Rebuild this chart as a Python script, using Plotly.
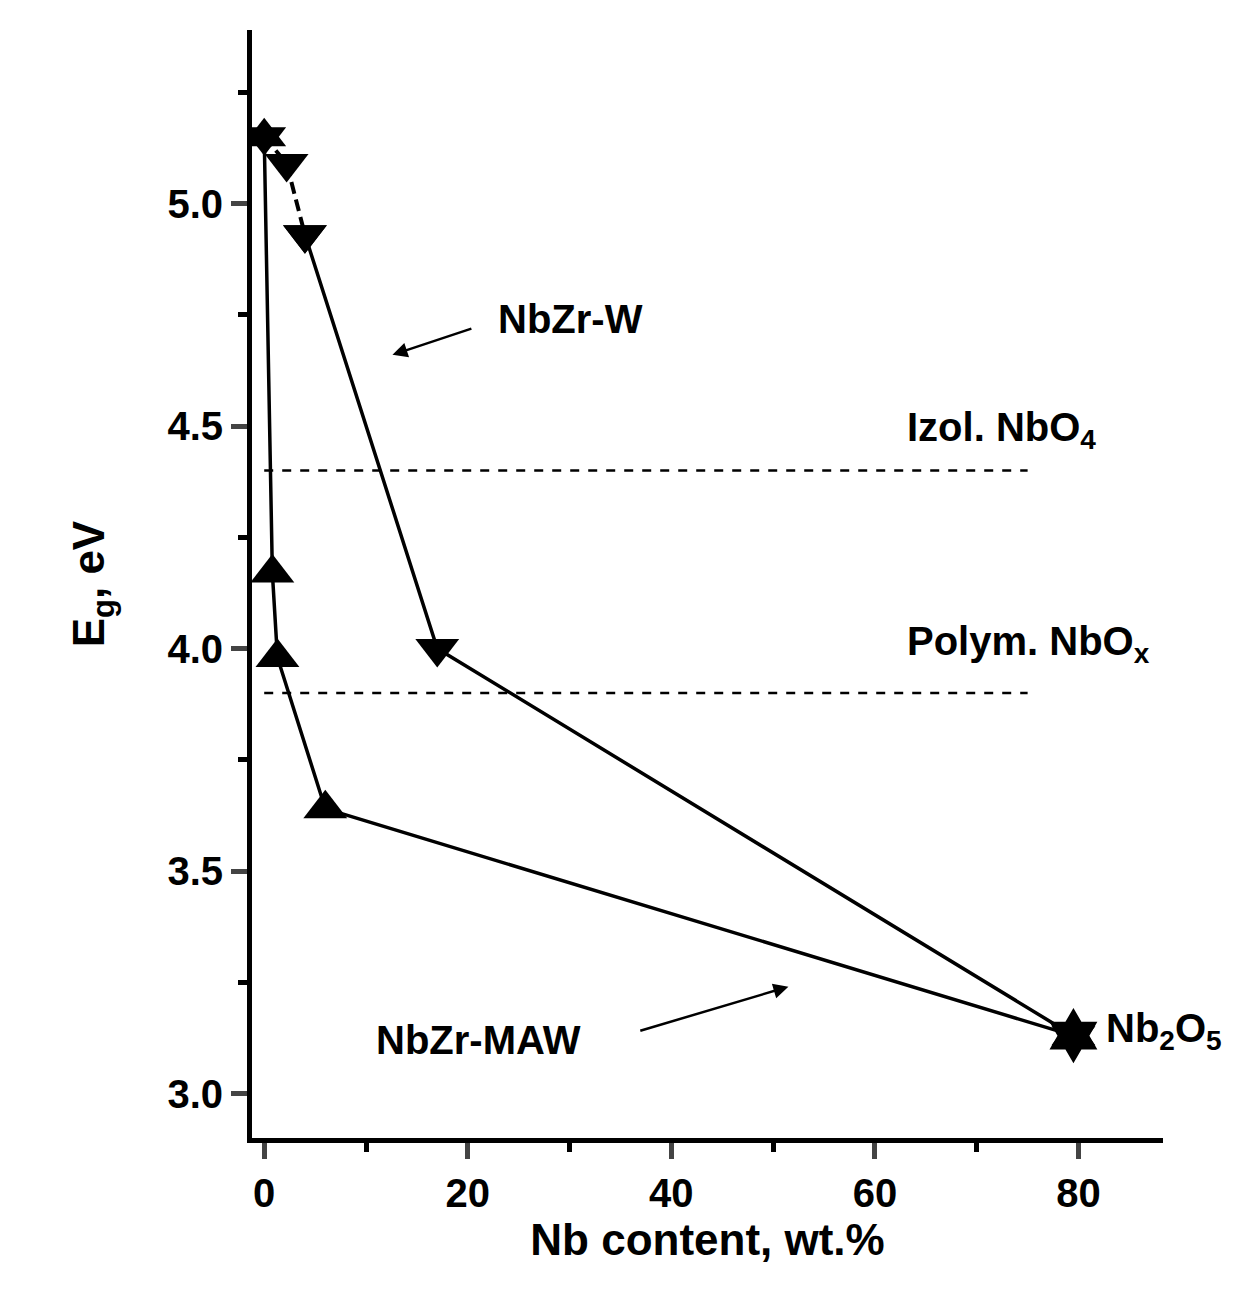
import plotly.graph_objects as go

w_x = [0, 2.2, 4, 17, 79.5]
w_y = [5.15, 5.09, 4.93, 4.0, 3.13]
maw_x = [0, 0.8, 1.3, 6, 79.5]
maw_y = [5.15, 4.17, 3.98, 3.64, 3.13]
ref_x = [0, 75]
izol_y = [4.4, 4.4]
polym_y = [3.9, 3.9]
nb2o5_x = [79.5]
nb2o5_y = [3.13]

F = dict(family="Liberation Sans, Arial", size=40, color="black")
fig = go.Figure()
fig.add_trace(go.Scatter(x=maw_x, y=maw_y, mode="lines+markers",
    line=dict(color="black", width=3.5),
    marker=dict(symbol="triangle-up", size=38, color="black")))
fig.add_trace(go.Scatter(x=w_x[:3], y=w_y[:3], mode="lines+markers",
    line=dict(color="black", width=4, dash="12px,6px"),
    marker=dict(symbol="triangle-down", size=38, color="black")))
fig.add_trace(go.Scatter(x=w_x[2:], y=w_y[2:], mode="lines+markers",
    line=dict(color="black", width=3.5),
    marker=dict(symbol="triangle-down", size=38, color="black")))
fig.add_trace(go.Scatter(x=ref_x, y=izol_y, mode="lines", line=dict(color="black", width=2.5, dash="dash")))
fig.add_trace(go.Scatter(x=ref_x, y=polym_y, mode="lines", line=dict(color="black", width=2.5, dash="dash")))
fig.add_trace(go.Scatter(x=nb2o5_x, y=nb2o5_y, mode="markers",
    marker=dict(symbol="hexagram", size=42, color="black")))

ann = [
    dict(x=22.8, y=4.74, text="<b>NbZr-W</b>", xanchor="left"),
    dict(x=63, y=4.49, text="<b>Izol. NbO<sub>4</sub></b>", xanchor="left"),
    dict(x=63, y=4.01, text="<b>Polym. NbO<sub>x</sub></b>", xanchor="left"),
    dict(x=10.8, y=3.12, text="<b>NbZr-MAW</b>", xanchor="left"),
    dict(x=82.5, y=3.14, text="<b>Nb<sub>2</sub>O<sub>5</sub></b>", xanchor="left"),
]
for a in ann:
    fig.add_annotation(showarrow=False, font=F, **a)
fig.add_annotation(x=12.6, y=4.66, ax=20.5, ay=4.72, xref="x", yref="y", axref="x", ayref="y",
                   showarrow=True, arrowhead=2, arrowsize=1.2, arrowwidth=2.5, arrowcolor="black", text="")
fig.add_annotation(x=51.5, y=3.24, ax=36.8, ay=3.14, xref="x", yref="y", axref="x", ayref="y",
                   showarrow=True, arrowhead=2, arrowsize=1.2, arrowwidth=2.5, arrowcolor="black", text="")

fig.update_layout(width=1252, height=1306, showlegend=False, plot_bgcolor="white", paper_bgcolor="white",
    margin=dict(l=244, r=97, t=22, b=176), font=F)
fig.update_xaxes(range=[-1.2, 88.3], tickvals=[0, 20, 40, 60, 80],
    ticktext=["<b>0</b>", "<b>20</b>", "<b>40</b>", "<b>60</b>", "<b>80</b>"],
    ticks="outside", ticklen=16, tickwidth=5,
    showline=True, linewidth=5, linecolor="black", showgrid=False, zeroline=False,
    minor=dict(tickvals=[10, 30, 50, 70], ticks="outside", ticklen=9, tickwidth=5, tickcolor="black"),
    title=dict(text="<b>Nb content, wt.%</b>", font=dict(size=44), standoff=10))
fig.update_yaxes(range=[2.9, 5.39], tickvals=[3.0, 3.5, 4.0, 4.5, 5.0],
    ticktext=["<b>3.0</b>", "<b>3.5</b>", "<b>4.0</b>", "<b>4.5</b>", "<b>5.0</b>"],
    ticks="outside", ticklen=16, tickwidth=5,
    showline=True, linewidth=5, linecolor="black", showgrid=False, zeroline=False,
    minor=dict(tickvals=[3.25, 3.75, 4.25, 4.75, 5.25], ticks="outside", ticklen=9, tickwidth=5, tickcolor="black"),
    title=dict(text="<b>E<sub>g</sub>, eV</b>", font=dict(size=44), standoff=50))
fig.write_html("out.html")
